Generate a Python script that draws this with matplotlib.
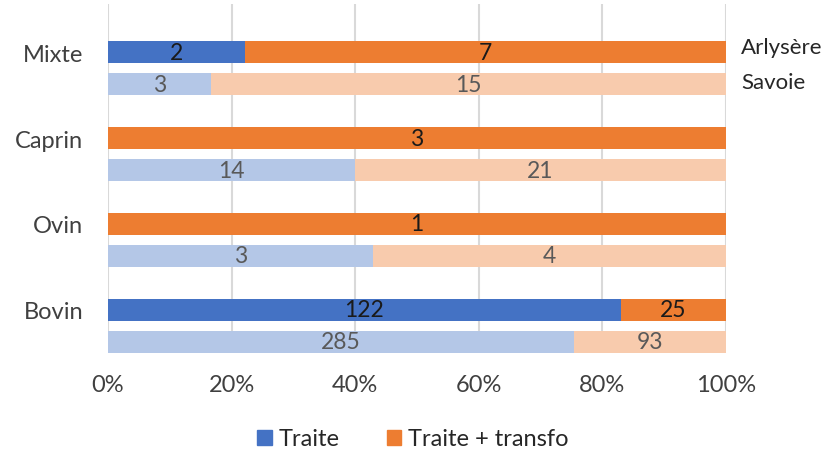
import numpy as np
import matplotlib.pyplot as plt
from matplotlib.patches import Patch
from matplotlib.ticker import PercentFormatter

plt.rcParams['font.family'] = ['Lato', 'DejaVu Sans']

# data (top to bottom)
categories = ['Mixte', 'Caprin', 'Ovin', 'Bovin']
arly_traite = [2, 0, 0, 122]
arly_transfo = [7, 3, 1, 25]
sav_traite = [3, 14, 3, 285]
sav_transfo = [15, 21, 4, 93]
territories = ['Arlysère', 'Savoie']
series_names = ['Traite', 'Traite + transfo']

c_blue = '#4472C4'
c_orange = '#ED7D31'
c_lblue = '#B4C7E7'
c_lorange = '#F8CBAD'

fig = plt.figure(figsize=(8.26, 4.52), dpi=100)
ax = fig.add_axes([108 / 826, 1 - 354 / 452, 618 / 826, 349 / 452])

y = np.arange(len(categories))
h = 22 / 86
off = 32 / 86


def draw(ypos, traite, transfo, c1, c2, tcol):
    traite = np.array(traite, float)
    transfo = np.array(transfo, float)
    tot = traite + transfo
    p1 = traite / tot * 100
    p2 = transfo / tot * 100
    ax.barh(ypos, p1, height=h, color=c1, zorder=3)
    ax.barh(ypos, p2, left=p1, height=h, color=c2, zorder=3)
    for yy, a, b, va, vb in zip(ypos, p1, p2, traite, transfo):
        if va > 0:
            ax.text(a / 2, yy, f'{int(va)}', ha='center', va='center',
                    fontsize=16.5, color=tcol, zorder=4)
        if vb > 0:
            ax.text(a + b / 2, yy, f'{int(vb)}', ha='center', va='center',
                    fontsize=16.5, color=tcol, zorder=4)


draw(y, arly_traite, arly_transfo, c_blue, c_orange, '#1a1a1a')
draw(y + off, sav_traite, sav_transfo, c_lblue, c_lorange, '#595959')

ax.set_xlim(0, 100)
ax.set_ylim(3.5, (5 - 53) / 86)
ax.set_xticks(np.arange(0, 101, 20))
ax.xaxis.set_major_formatter(PercentFormatter(decimals=0))
ax.set_yticks(y)
ax.set_yticklabels(categories)
ax.tick_params(axis='both', length=0, labelsize=17, colors='#404040')
ax.tick_params(axis='x', pad=15)
ax.tick_params(axis='y', pad=18)
ax.grid(axis='x', color='#D9D9D9', linewidth=1.5, zorder=0)
for s in ax.spines.values():
    s.set_visible(False)

# territory labels on the right
fig.text(741 / 826, 1 - 48 / 452, territories[0], fontsize=16,
         color='#262626', va='center', ha='left')
fig.text(741 / 826, 1 - 83 / 452, territories[1], fontsize=16,
         color='#262626', va='center', ha='left')

handles = [Patch(color=c_blue, label=series_names[0]),
           Patch(color=c_orange, label=series_names[1])]
fig.legend(handles=handles, loc='center', bbox_to_anchor=(413 / 826, 1 - 440 / 452),
           ncol=2, frameon=False, fontsize=17, handlelength=0.6, handleheight=0.6,
           handletextpad=0.3, columnspacing=2.0, labelcolor='#262626')

fig.savefig('out.png', dpi=100)
